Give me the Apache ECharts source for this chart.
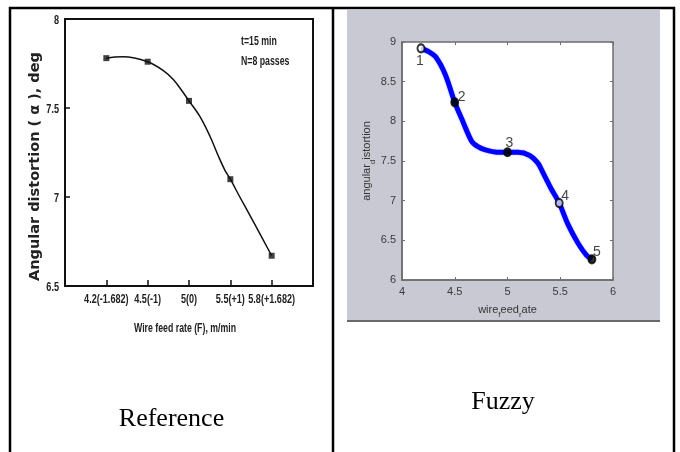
<!DOCTYPE html>
<html><head><meta charset="utf-8">
<script src="https://cdn.jsdelivr.net/npm/echarts@6/dist/echarts.min.js"></script>
<style>html,body{margin:0;padding:0;background:#fff}#c{width:680px;height:452px}</style>
</head><body><div id="c"></div>
<script>
// ---- Data: left "Reference" chart ----
const leftCategories = ['4.2(-1.682)', '4.5(-1)', '5(0)', '5.5(+1)', '5.8(+1.682)'];
const leftValues = [7.78, 7.76, 7.54, 7.10, 6.67];
// drawn curve (x in category-index units)
const leftCurveIdx = [0, 0.2, 0.41, 1, 1.38, 1.62, 1.82, 2, 2.27, 2.51, 2.71, 2.87, 3, 3.23, 3.56, 4];
const leftCurveY = [7.78, 7.787, 7.788, 7.76, 7.71, 7.66, 7.60, 7.54, 7.45, 7.34, 7.23, 7.15, 7.10, 7.00, 6.86, 6.67];
const leftYTicks = ['6.5', '7', '7.5', '8'];

// ---- Data: right "Fuzzy" chart ----
const pointX = [4.18, 4.5, 5.0, 5.49, 5.8];
const pointY = [8.92, 8.24, 7.61, 6.97, 6.26];
const pointLabels = ['1', '2', '3', '4', '5'];
const curveX = [4.18, 4.25, 4.32, 4.41, 4.5, 4.57, 4.66, 4.72, 4.79, 4.9, 5.0, 5.1, 5.21, 5.29, 5.33, 5.41, 5.49, 5.57, 5.67, 5.75, 5.8];
const curveY = [8.92, 8.88, 8.81, 8.59, 8.24, 8.02, 7.75, 7.68, 7.64, 7.61, 7.61, 7.61, 7.57, 7.47, 7.37, 7.16, 6.97, 6.71, 6.46, 6.31, 6.26];
const rightXTicks = [4, 4.5, 5, 5.5, 6];
const rightYTicks = [6, 6.5, 7, 7.5, 8, 8.5, 9];

const captions = ['Reference', 'Fuzzy'];
const notes = ['t=15 min', 'N=8 passes'];
const leftXName = 'Wire feed rate (F), m/min';
const leftYName = 'Angular distortion ( α ), deg';

// ---- styles (not data) ----
const labelOffsets = [[-1, 13], [7, -5], [2, -9], [6, -7], [5, -7]];
const markerFills = ['#ffffff', '#000000', '#000000', '#dfe3ff', '#000000'];
const sans = "'Liberation Sans',Arial,sans-serif";
const serif = "'Liberation Serif','Times New Roman',serif";
const condensed = 0.7;

const chart = echarts.init(document.getElementById('c'), null, {renderer: 'canvas'});

const axisCats = [''].concat(leftCategories, ['']);
const leftPoints = leftCategories.map((c, i) => [c, leftValues[i]]);
const leftCurve = leftCurveIdx.map((x, i) => [x, leftCurveY[i]]);
const curveData = curveX.map((x, i) => [x, curveY[i]]);
const pointData = pointX.map((x, i) => ({
  value: [x, pointY[i]],
  itemStyle: {color: markerFills[i]},
  label: {offset: labelOffsets[i]}
}));

const option = {
  animation: false,
  backgroundColor: '#fff',
  grid: [
    {left: 65, top: 19, width: 248, height: 267, show: true, borderColor: '#111', borderWidth: 2, backgroundColor: 'transparent'},
    {left: 402, top: 42, width: 211, height: 238, show: true, borderColor: '#6e6e6e', borderWidth: 1.5, backgroundColor: '#fff'}
  ],
  xAxis: [
    {
      type: 'category', gridIndex: 0, data: axisCats, boundaryGap: false,
      axisLine: {onZero: false, lineStyle: {color: '#111', width: 2}},
      axisTick: {inside: true, length: 6, lineStyle: {color: '#111', width: 1.5}, interval: (i) => i > 0 && i < axisCats.length - 1},
      axisLabel: {show: false},
      splitLine: {show: false}
    },
    {
      type: 'value', gridIndex: 1, min: 4, max: 6, interval: 0.5,
      axisLine: {onZero: false, lineStyle: {color: '#6e6e6e', width: 1.5}},
      axisTick: {inside: true, length: 3, lineStyle: {color: '#6e6e6e'}},
      axisLabel: {color: '#3a3a3a', fontFamily: sans, fontSize: 11, margin: 6, formatter: v => rightXTicks.includes(v) ? String(v) : ''},
      splitLine: {show: false},
      name: '{n|wire}{s|f}{n|eed}{s|r}{n|ate}', nameLocation: 'middle', nameGap: 24,
      nameTextStyle: {
        rich: {
          n: {fontFamily: sans, fontSize: 11, color: '#333', lineHeight: 16, verticalAlign: 'top', padding: [0, 0, 4, 0]},
          s: {fontFamily: sans, fontSize: 8, color: '#333', lineHeight: 16, verticalAlign: 'top', padding: [7, 0, 0, 0]}
        }
      }
    },
    {
      type: 'value', gridIndex: 1, min: 4, max: 6, interval: 0.5, position: 'top',
      axisLine: {show: false, onZero: false}, axisTick: {inside: true, length: 3, lineStyle: {color: '#6e6e6e'}},
      axisLabel: {show: false}, splitLine: {show: false}
    },
    {
      type: 'value', gridIndex: 0, min: -1, max: leftCategories.length, show: false,
      axisLine: {onZero: false}
    }
  ],
  yAxis: [
    {
      type: 'value', gridIndex: 0, min: 6.5, max: 8, interval: 0.5,
      axisLine: {show: true, onZero: false, lineStyle: {color: '#111', width: 2}},
      axisTick: {show: true, inside: true, length: 5, lineStyle: {color: '#111', width: 1.5}},
      axisLabel: {show: false},
      splitLine: {show: false},
      name: leftYName, nameLocation: 'middle', nameGap: 22,
      nameTextStyle: {color: '#222', fontFamily: "'DejaVu Sans',sans-serif", fontSize: 14.5, fontWeight: 'bold', padding: [0, 28, 0, 0]}
    },
    {
      type: 'value', gridIndex: 1, min: 6, max: 9, interval: 0.5,
      axisLine: {show: true, onZero: false, lineStyle: {color: '#6e6e6e', width: 1.5}},
      axisTick: {show: true, inside: true, length: 3, lineStyle: {color: '#6e6e6e'}},
      axisLabel: {color: '#3a3a3a', fontFamily: sans, fontSize: 11, margin: 6, formatter: v => rightYTicks.includes(v) ? String(v) : ''},
      splitLine: {show: false},
      name: '{n|angular}{s|d}{n|istortion}', nameLocation: 'middle', nameGap: 22,
      nameTextStyle: {
        rich: {
          n: {fontFamily: sans, fontSize: 11, color: '#333', lineHeight: 16, verticalAlign: 'top', padding: [0, 0, 4, 0]},
          s: {fontFamily: sans, fontSize: 8, color: '#333', lineHeight: 16, verticalAlign: 'top', padding: [7, 0, 0, 0]}
        }
      }
    },
    {
      type: 'value', gridIndex: 1, min: 6, max: 9, interval: 0.5, position: 'right',
      axisLine: {show: false, onZero: false}, axisTick: {show: true, inside: true, length: 3, lineStyle: {color: '#6e6e6e'}},
      axisLabel: {show: false}, splitLine: {show: false}
    }
  ],
  series: [
    {
      type: 'line', xAxisIndex: 3, yAxisIndex: 0, data: leftCurve, smooth: 0.35,
      showSymbol: false, lineStyle: {color: '#111', width: 1.5}, z: 3
    },
    {
      type: 'scatter', xAxisIndex: 0, yAxisIndex: 0, data: leftPoints,
      symbol: 'rect', symbolSize: 6, itemStyle: {color: '#111'}, z: 4
    },
    {
      type: 'line', xAxisIndex: 1, yAxisIndex: 1, data: curveData, smooth: 0.3,
      showSymbol: false, lineStyle: {color: '#0000ff', width: 5, shadowColor: 'rgba(0,0,255,0.35)', shadowBlur: 2}, z: 3
    },
    {
      type: 'scatter', xAxisIndex: 1, yAxisIndex: 1, data: pointData,
      symbol: 'circle', symbolSize: [7, 8],
      itemStyle: {borderColor: '#000', borderWidth: 2},
      label: {show: true, position: 'inside', formatter: p => pointLabels[p.dataIndex], color: '#111', fontFamily: sans, fontSize: 14, align: 'center', verticalAlign: 'middle'},
      z: 4
    }
  ]
};
chart.setOption(option);

// ---- graphic layer: table, figure background, captions, condensed tick labels ----
const condFont = (size) => 'bold ' + size + 'px ' + sans;
const g = [
  {type: 'rect', shape: {x: 347, y: 10, width: 313, height: 311}, style: {fill: '#c9c9d3'}, z: -10, silent: true},
  {type: 'line', shape: {x1: 347, y1: 321, x2: 660, y2: 321}, style: {stroke: '#6a6a6a', lineWidth: 2}, z: -9, silent: true},
  {type: 'line', shape: {x1: 9, y1: 8, x2: 675, y2: 8}, style: {stroke: '#000', lineWidth: 2.5}, z: 10, silent: true},
  {type: 'line', shape: {x1: 10, y1: 7, x2: 10, y2: 452}, style: {stroke: '#000', lineWidth: 2.5}, z: 10, silent: true},
  {type: 'line', shape: {x1: 333, y1: 7, x2: 333, y2: 452}, style: {stroke: '#000', lineWidth: 2.5}, z: 10, silent: true},
  {type: 'line', shape: {x1: 674, y1: 7, x2: 674, y2: 452}, style: {stroke: '#000', lineWidth: 2.5}, z: 10, silent: true},
  {type: 'text', x: 241, y: 42, scaleX: condensed, style: {text: notes[0], fill: '#222', font: condFont(12.5), textVerticalAlign: 'middle'}, z: 10},
  {type: 'text', x: 241, y: 62, scaleX: condensed, style: {text: notes[1], fill: '#222', font: condFont(12.5), textVerticalAlign: 'middle'}, z: 10},
  {type: 'text', x: 171.5, y: 406, style: {text: captions[0], fill: '#000', font: '26px ' + serif, textAlign: 'center', textVerticalAlign: 'alphabetic'}, z: 10},
  {type: 'text', x: 503, y: 389, style: {text: captions[1], fill: '#000', font: '26px ' + serif, textAlign: 'center', textVerticalAlign: 'alphabetic'}, z: 10}
];
const yBase = chart.convertToPixel({yAxisIndex: 0}, 6.5);
const xLeftEdge = chart.convertToPixel({xAxisIndex: 3}, -1);
leftCategories.forEach((c) => {
  const px = chart.convertToPixel({xAxisIndex: 0}, c);
  g.push({type: 'text', x: px, y: yBase + 13, scaleX: condensed, style: {text: c, fill: '#222', font: condFont(13), textAlign: 'center', textVerticalAlign: 'middle'}, z: 10});
});
leftYTicks.forEach((t) => {
  const py = chart.convertToPixel({yAxisIndex: 0}, Number(t));
  g.push({type: 'text', x: xLeftEdge - 6, y: py + 1, scaleX: condensed, style: {text: t, fill: '#222', font: condFont(13), textAlign: 'right', textVerticalAlign: 'middle'}, z: 10});
});
const xMid = chart.convertToPixel({xAxisIndex: 0}, leftCategories[2]);
g.push({type: 'text', x: xMid - 4, y: yBase + 43, scaleX: 0.7, style: {text: leftXName, fill: '#222', font: condFont(12.5), textAlign: 'center', textVerticalAlign: 'middle'}, z: 10});

chart.setOption({graphic: g});
</script>
</body></html>
